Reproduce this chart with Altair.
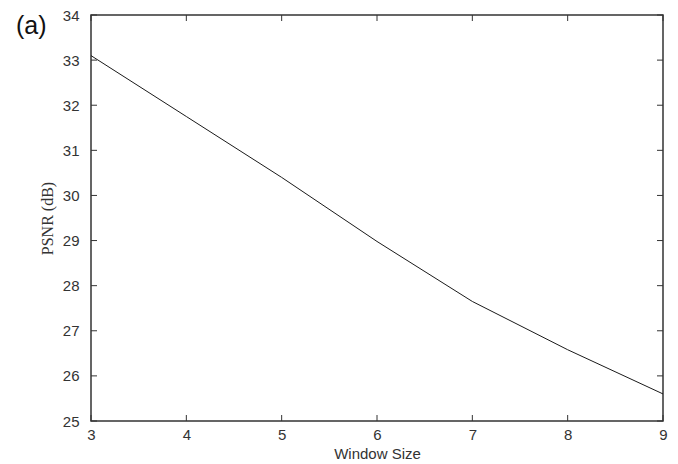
import altair as alt
import pandas as pd

window_size = [3, 4, 5, 6, 7, 8, 9]
psnr = [33.1, 31.75, 30.4, 28.98, 27.65, 26.58, 25.6]
x_ticks = [3, 4, 5, 6, 7, 8, 9]
y_ticks = [25, 26, 27, 28, 29, 30, 31, 32, 33, 34]

W, H = 572, 406
df = pd.DataFrame({"w": window_size, "p": psnr})
xt = pd.DataFrame({"t": x_ticks})
yt = pd.DataFrame({"t": y_ticks})

xs = alt.Scale(domain=[3, 9], nice=False, zero=False)
ys = alt.Scale(domain=[25, 34], nice=False, zero=False)

line = alt.Chart(df).mark_line(color="#1a1a1a", strokeWidth=1).encode(
    x=alt.X("w:Q", scale=xs, axis=alt.Axis(values=x_ticks, title="Window Size", format="d",
                                          labelPadding=6, titlePadding=4, grid=False,
                                          ticks=False, domain=False, labelFlush=False,
                                          labelFont="Liberation Sans", labelFontSize=15,
                                          labelColor="#333",
                                          titleFont="Liberation Sans", titleFontSize=15,
                                          titleColor="#333", titleFontWeight="normal")),
    y=alt.Y("p:Q", scale=ys, axis=alt.Axis(values=y_ticks, title="PSNR (dB)", format="d",
                                          labelPadding=12, titlePadding=7, grid=False,
                                          ticks=False, domain=False, labelFlush=False,
                                          labelFont="Liberation Sans", labelFontSize=15,
                                          labelColor="#333",
                                          titleFont="Liberation Serif", titleFontSize=16,
                                          titleColor="#333", titleFontWeight="normal")),
)

tk = 6
bottom = alt.Chart(xt).mark_rule(color="#333", strokeWidth=1).encode(
    x=alt.X("t:Q", scale=xs), y=alt.value(H), y2=alt.value(H - tk))
top = alt.Chart(xt).mark_rule(color="#333", strokeWidth=1).encode(
    x=alt.X("t:Q", scale=xs), y=alt.value(0), y2=alt.value(tk))
left = alt.Chart(yt).mark_rule(color="#333", strokeWidth=1).encode(
    y=alt.Y("t:Q", scale=ys), x=alt.value(0), x2=alt.value(tk))
right = alt.Chart(yt).mark_rule(color="#333", strokeWidth=1).encode(
    y=alt.Y("t:Q", scale=ys), x=alt.value(W), x2=alt.value(W - tk))

label = alt.Chart(pd.DataFrame({"s": ["(a)"]})).mark_text(
    text="(a)", font="Liberation Sans", fontSize=25, align="left", baseline="alphabetic", color="#111"
).encode(x=alt.value(-75), y=alt.value(19))

chart = alt.layer(line, bottom, top, left, right, label).properties(
    width=W, height=H,
    autosize=alt.AutoSizeParams(type="none"),
    padding={"left": 91, "top": 15, "right": 15, "bottom": 43},
    background="white",
).configure_view(stroke="#333", strokeWidth=1.5)

chart.save("out.html", embed_options={"renderer": "svg", "actions": False})
